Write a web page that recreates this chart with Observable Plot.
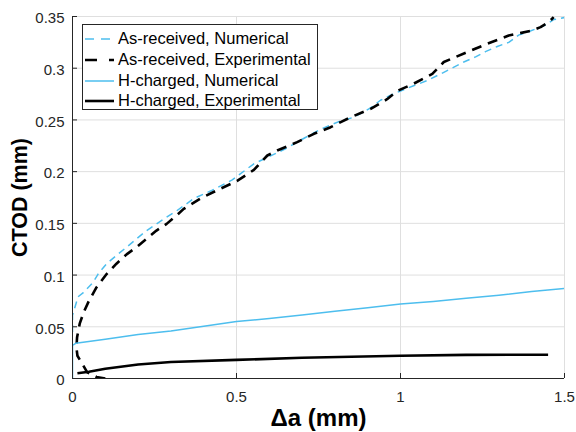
<!DOCTYPE html>
<html>
<head>
<meta charset="utf-8">
<script src="https://cdn.jsdelivr.net/npm/d3@7"></script>
<script src="https://cdn.jsdelivr.net/npm/@observablehq/plot@0.6"></script>
<style>
  html, body { margin: 0; padding: 0; background: #fff; }
  body { font-family: "Liberation Sans", Arial, Helvetica, sans-serif; }
  #wrap { position: relative; width: 576px; height: 432px; }
  #legend { position: absolute; left: 82px; top: 24px; width: 236px; height: 86px;
    box-sizing: border-box; border: 1px solid #262626; background: #fff; }
  .row { position: absolute; left: 0; height: 21px; display: flex; align-items: center;
    font-size: 16.5px; color: #000; white-space: nowrap; }
  .row svg { display: block; margin-left: 1px; margin-right: 3px; }
</style>
</head>
<body>
<div id="wrap"></div>
<script>
// ---- data ----
const asNumX = [0, 0, 0.017, 0.033, 0.063, 0.078, 0.104, 0.134, 0.165, 0.195, 0.226, 0.256, 0.287, 0.317, 0.37, 0.426, 0.487, 0.553, 0.649, 0.71, 0.756, 0.817, 0.858, 0.909, 0.939, 0.97, 1.0, 1.04, 1.081, 1.132, 1.163, 1.193, 1.229, 1.259, 1.295, 1.33, 1.36, 1.396, 1.437, 1.467, 1.5];
const asNumY = [0.045, 0.061, 0.079, 0.083, 0.093, 0.101, 0.111, 0.119, 0.127, 0.135, 0.143, 0.1495, 0.156, 0.162, 0.174, 0.182, 0.192, 0.2076, 0.222, 0.233, 0.241, 0.249, 0.2526, 0.2617, 0.269, 0.274, 0.278, 0.283, 0.288, 0.296, 0.301, 0.306, 0.311, 0.316, 0.321, 0.325, 0.332, 0.336, 0.341, 0.347, 0.349];

const asExpX = [0.1, 0.073, 0.045, 0.03, 0.015, 0.012, 0.014, 0.022, 0.034, 0.05, 0.073, 0.104, 0.134, 0.165, 0.195, 0.226, 0.256, 0.287, 0.317, 0.339, 0.39, 0.441, 0.502, 0.553, 0.594, 0.624, 0.685, 0.736, 0.787, 0.848, 0.909, 0.959, 0.99, 1.04, 1.097, 1.132, 1.203, 1.264, 1.33, 1.396, 1.427, 1.452, 1.467];
const asExpY = [0, 0.0015, 0.006, 0.014, 0.022, 0.03, 0.04, 0.053, 0.064, 0.075, 0.088, 0.101, 0.111, 0.12, 0.127, 0.135, 0.143, 0.1495, 0.1575, 0.164, 0.174, 0.182, 0.191, 0.2017, 0.2156, 0.2204, 0.2285, 0.2366, 0.243, 0.2526, 0.2607, 0.27, 0.278, 0.285, 0.2945, 0.306, 0.3155, 0.3236, 0.3316, 0.336, 0.3397, 0.3445, 0.3494];

const hNumX = [0, 0, 0.01, 0.1, 0.2, 0.3, 0.4, 0.5, 0.6, 0.7, 0.8, 0.9, 1.0, 1.1, 1.2, 1.3, 1.4, 1.5];
const hNumY = [0, 0.032, 0.034, 0.038, 0.0425, 0.046, 0.0505, 0.055, 0.058, 0.0615, 0.065, 0.0685, 0.072, 0.0745, 0.0775, 0.0805, 0.084, 0.087];

const hExpX = [0.015, 0.05, 0.1, 0.2, 0.3, 0.5, 0.7, 1.0, 1.2, 1.45];
const hExpY = [0.005, 0.0065, 0.0095, 0.0135, 0.016, 0.018, 0.02, 0.022, 0.0228, 0.023];

const seriesNames = ["As-received, Numerical", "As-received, Experimental", "H-charged, Numerical", "H-charged, Experimental"];
const xTicks = [0, 0.5, 1, 1.5];
const xTickLabels = ["0", "0.5", "1", "1.5"];
const yTicks = [0, 0.05, 0.1, 0.15, 0.2, 0.25, 0.3, 0.35];
const yTickLabels = ["0", "0.05", "0.1", "0.15", "0.2", "0.25", "0.3", "0.35"];
const xLabel = "Δa (mm)";
const yLabel = "CTOD (mm)";

// ---- styles ----
const BLUE = "#4DBEEE";
const styles = [
  {stroke: BLUE, strokeWidth: 1.5, dash: "7,5"},
  {stroke: "#000", strokeWidth: 2.6, dash: "10,7"},
  {stroke: BLUE, strokeWidth: 1.5, dash: null},
  {stroke: "#000", strokeWidth: 2.6, dash: null}
];

const zip = (xs, ys) => xs.map((x, i) => ({x, y: ys[i]}));
const datasets = [zip(asNumX, asNumY), zip(asExpX, asExpY), zip(hNumX, hNumY), zip(hExpX, hExpY)];

const lineMarks = datasets.map((d, i) => Plot.line(d, {
  x: "x", y: "y", stroke: styles[i].stroke, strokeWidth: styles[i].strokeWidth,
  strokeDasharray: styles[i].dash || undefined, strokeLinejoin: "round", strokeLinecap: "butt", clip: true
}));

const xfmt = d => xTickLabels[xTicks.indexOf(d)];
const yfmt = d => yTickLabels[yTicks.indexOf(d)];

const chart = Plot.plot({
  width: 576, height: 432,
  marginLeft: 72, marginRight: 12, marginTop: 16, marginBottom: 54,
  style: {fontFamily: "'Liberation Sans', Arial, Helvetica, sans-serif", fontSize: "15px", color: "#262626", background: "#fff", overflow: "visible"},
  x: {domain: [0, 1.5]},
  y: {domain: [0, 0.35]},
  marks: [
    Plot.gridX(xTicks, {stroke: "#dfdfdf", strokeOpacity: 1, strokeWidth: 1}),
    Plot.gridY(yTicks, {stroke: "#dfdfdf", strokeOpacity: 1, strokeWidth: 1}),
    ...lineMarks,
    Plot.ruleX([0], {stroke: "#262626", strokeWidth: 1}),
    Plot.ruleY([0], {stroke: "#262626", strokeWidth: 1}),
    // inward tick marks
    Plot.axisX(xTicks, {tickSize: 5, dy: -5, tickFormat: () => "", label: null, stroke: "#262626"}),
    Plot.axisY(yTicks, {tickSize: 5, dx: 5, tickFormat: () => "", label: null, stroke: "#262626"}),
    // tick labels
    Plot.axisX(xTicks, {tickSize: 0, tickPadding: 13, tickFormat: xfmt, label: null, fontSize: 15, fill: "#262626"}),
    Plot.axisY(yTicks, {tickSize: 0, tickPadding: 8, dy: 2, tickFormat: yfmt, label: null, fontSize: 15, fill: "#262626"}),
    // axis titles
    Plot.text([yLabel], {frameAnchor: "left", dx: -52, rotate: -90, textAnchor: "middle", lineAnchor: "middle", text: d => d, fontSize: 21.5, fontWeight: "bold", fill: "#000"}),
    Plot.text([xLabel], {frameAnchor: "bottom", dy: 40, textAnchor: "middle", lineAnchor: "middle", text: d => d, fontSize: 24, fontWeight: "bold", fill: "#000"})
  ]
});

const wrap = document.getElementById("wrap");
wrap.appendChild(chart);

// ---- legend ----
const legend = document.createElement("div");
legend.id = "legend";
const rowTops = [3, 24, 45, 65];
seriesNames.forEach((name, i) => {
  const row = document.createElement("div");
  row.className = "row";
  row.style.top = rowTops[i] + "px";
  const s = styles[i];
  const dash = i === 0 ? "9,7" : (i === 1 ? "12,12" : "none");
  row.innerHTML = `<svg width="31" height="10"><line x1="1" y1="5" x2="30" y2="5" stroke="${s.stroke}" stroke-width="${s.strokeWidth}" stroke-dasharray="${dash}"/></svg><span>${name}</span>`;
  legend.appendChild(row);
});
wrap.appendChild(legend);
</script>
</body>
</html>
